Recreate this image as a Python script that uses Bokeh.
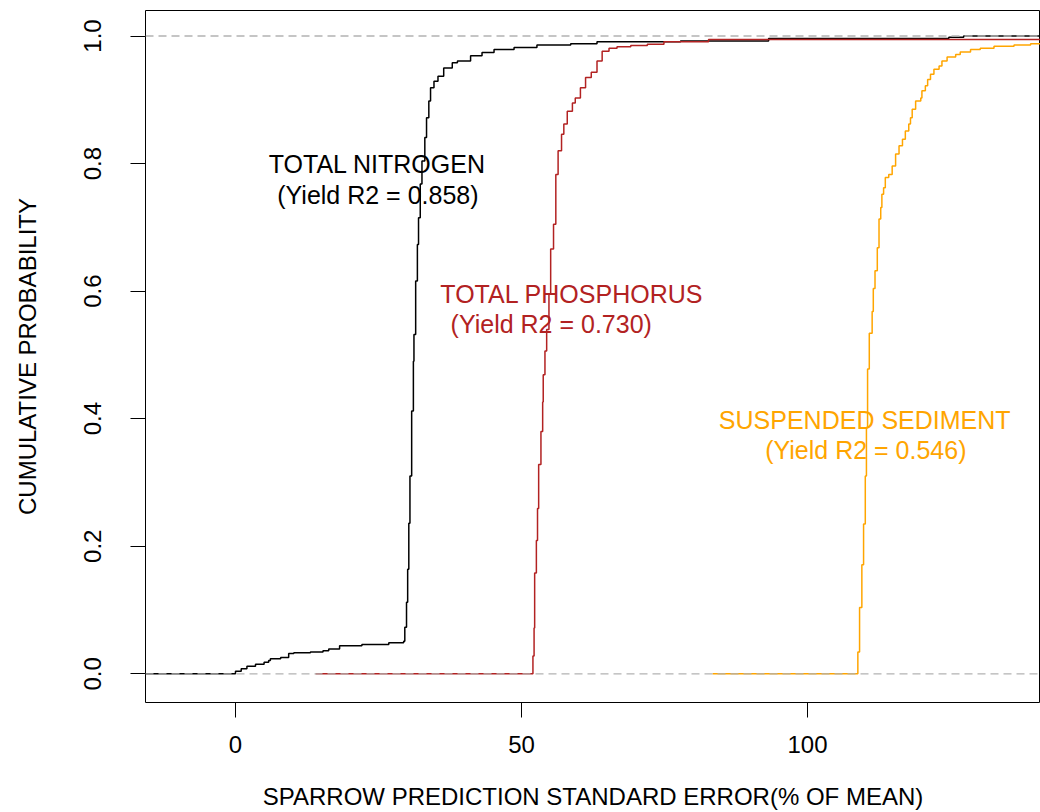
from bokeh.plotting import figure
from bokeh.models import Range1d, FixedTicker, ColumnDataSource, Span, NumeralTickFormatter
from bokeh.core.properties import value
from bokeh.embed import file_html
from bokeh.resources import INLINE

# ---- data (ECDF step knots: x, cumulative prob after the knot) ----
tn_x = [-20, 0.0, 1.0, 2.0, 3.5, 5.0, 5.8, 6.1, 7.9, 9.3, 10.2, 13.1, 15.3, 16.3, 18.2, 22.1, 26.8,
        29.4, 29.6, 29.9, 30.1, 30.3, 30.5, 30.8, 31.1, 31.2, 31.5, 31.8, 32.0, 32.3, 32.6, 33.1,
        33.4, 33.8, 34.1, 34.7, 35.4, 36.4, 37.9, 38.8, 41.1, 43.1, 45.2, 48.7, 52.7, 58.6, 63.2,
        77.8, 93.2, 124.7, 127.3, 145]
tn_y = [0.0, 0.004, 0.008, 0.012, 0.015, 0.018, 0.021, 0.0235, 0.0256, 0.032, 0.033, 0.034, 0.036,
        0.039, 0.044, 0.046, 0.0486, 0.051, 0.073, 0.112, 0.164, 0.236, 0.31, 0.412, 0.49, 0.532,
        0.616, 0.673, 0.715, 0.768, 0.804, 0.841, 0.872, 0.898, 0.919, 0.929, 0.937, 0.950, 0.958,
        0.961, 0.969, 0.974, 0.979, 0.982, 0.986, 0.988, 0.991, 0.992, 0.996, 0.998, 1.0, 1.0]

tp_x = [14.0, 52.0, 52.2, 52.3, 52.6, 52.8, 53.0, 53.4, 53.7, 53.8, 54.1, 54.4, 54.8, 55.1, 55.6,
        56.0, 56.4, 57.0, 57.4, 58.0, 58.9, 59.4, 60.3, 61.2, 62.2, 63.2, 64.1, 65.3, 66.7, 69.1,
        72.0, 74.9, 82.7, 145]
tp_y = [0.0, 0.028, 0.072, 0.158, 0.209, 0.259, 0.328, 0.380, 0.426, 0.469, 0.506, 0.54, 0.595,
        0.666, 0.705, 0.783, 0.820, 0.846, 0.862, 0.882, 0.895, 0.903, 0.919, 0.935, 0.943, 0.961,
        0.976, 0.981, 0.983, 0.985, 0.987, 0.991, 0.9945, 0.9945]

ss_x = [83.4, 108.8, 109.1, 109.5, 109.8, 110.1, 110.3, 110.5, 110.8, 111.3, 111.5, 111.8, 112.2,
        112.5, 112.8, 113.0, 113.3, 113.6, 114.2, 114.8, 115.4, 116.0, 116.6, 117.1, 117.7, 118.0,
        118.3, 118.9, 119.8, 120.0, 120.6, 121.0, 121.5, 122.1, 123.0, 123.5, 124.4, 125.9, 126.7,
        128.5, 130.2, 132.6, 136.1, 139.0, 145]
ss_y = [0.0, 0.034, 0.104, 0.171, 0.235, 0.310, 0.386, 0.478, 0.534, 0.568, 0.604, 0.632, 0.668,
        0.713, 0.731, 0.752, 0.762, 0.778, 0.783, 0.796, 0.815, 0.828, 0.838, 0.851, 0.862, 0.872,
        0.885, 0.898, 0.903, 0.914, 0.922, 0.932, 0.940, 0.948, 0.953, 0.961, 0.967, 0.971, 0.975,
        0.979, 0.981, 0.984, 0.986, 0.988, 0.988]

label_text = ["TOTAL NITROGEN", "(Yield R2 = 0.858)",
              "TOTAL PHOSPHORUS", "(Yield R2 = 0.730)",
              "SUSPENDED SEDIMENT", "(Yield R2 = 0.546)"]
label_x = [24.8, 24.9, 58.8, 55.2, 110.0, 110.2]
label_y = [0.80, 0.751, 0.596, 0.549, 0.398, 0.351]

x_ticks = [0, 50, 100]
y_ticks = [0.0, 0.2, 0.4, 0.6, 0.8, 1.0]

# ---- styling ----
C_TN = "#000000"
C_TP = "#B22222"
C_SS = "#FFA500"
label_colors = [C_TN, C_TN, C_TP, C_TP, C_SS, C_SS]
FONT = "Liberation Sans"

p = figure(width=1040, height=812, output_backend="svg", toolbar_location=None,
           x_range=Range1d(-15.73, 140.73), y_range=Range1d(-0.045, 1.04),
           min_border_left=145, min_border_top=10, min_border_right=0, min_border_bottom=110)
p.background_fill_color = "white"
p.border_fill_color = "white"
p.outline_line_color = "black"
p.outline_line_width = 1
p.grid.visible = False

p.step(tn_x, tn_y, mode="after", line_color=C_TN, line_width=1.5)
p.step(tp_x, tp_y, mode="after", line_color=C_TP, line_width=1.5)
p.step(ss_x, ss_y, mode="after", line_color=C_SS, line_width=1.5)

for loc in (0.0, 1.0):
    p.add_layout(Span(location=loc, dimension="width", line_color="#B3B3B3",
                      line_dash="8 5", line_width=1.3))

src = ColumnDataSource(dict(x=label_x, y=label_y, text=label_text, color=label_colors))
p.text(x="x", y="y", text="text", text_color="color", source=src,
       text_font=value(FONT), text_font_size=value("25px"),
       text_align="center", text_baseline="middle")

for ax in (p.xaxis[0], p.yaxis[0]):
    ax.axis_line_color = None
    ax.major_tick_in = 0
    ax.major_tick_out = 15
    ax.major_tick_line_color = "black"
    ax.minor_tick_line_color = None
    ax.major_label_text_font = FONT
    ax.major_label_text_font_size = "24px"
    ax.major_label_text_color = "black"
    ax.axis_label_text_font = FONT
    ax.axis_label_text_font_size = "24px"
    ax.axis_label_text_font_style = "normal"
    ax.axis_label_text_color = "black"

p.xaxis.ticker = FixedTicker(ticks=x_ticks)
p.xaxis.major_label_standoff = 18
p.xaxis.axis_label = "SPARROW PREDICTION STANDARD ERROR(% OF MEAN)"
p.xaxis.axis_label_standoff = 27

p.yaxis.ticker = FixedTicker(ticks=y_ticks)
p.yaxis.formatter = NumeralTickFormatter(format="0.0")
p.yaxis.major_label_orientation = "parallel"
p.yaxis.major_label_standoff = 29
p.yaxis.axis_label = "CUMULATIVE PROBABILITY"
p.yaxis.axis_label_standoff = 41

open("out.html", "w").write(file_html(p, INLINE))
